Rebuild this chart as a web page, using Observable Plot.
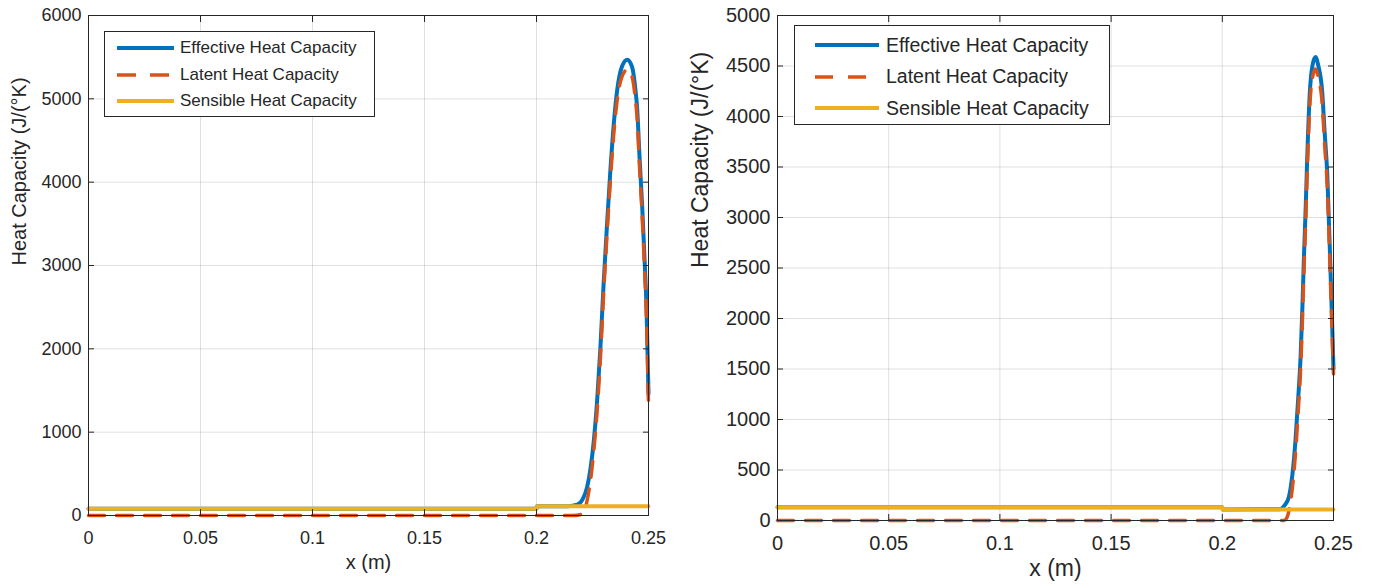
<!DOCTYPE html>
<html>
<head>
<meta charset="utf-8">
<script src="https://cdn.jsdelivr.net/npm/d3@7"></script>
<script src="https://cdn.jsdelivr.net/npm/@observablehq/plot@0.6"></script>
<style>
  html, body { margin: 0; padding: 0; background: #fff; }
  #wrap { position: relative; width: 1373px; height: 588px; background: #fff; overflow: hidden;
          font-family: "Liberation Sans", Arial, sans-serif; color: #262626; }
  .panel { position: absolute; top: 0; }
  .legend { position: absolute; background: #fff; border: 1px solid #262626; box-sizing: border-box; }
  .legend .row { position: absolute; left: 0; display: flex; align-items: center; white-space: nowrap; }
  .legend svg { display: block; }
</style>
</head>
<body>
<div id="wrap"></div>
<script>
// ---------- data ----------
const seriesNames = ["Effective Heat Capacity", "Latent Heat Capacity", "Sensible Heat Capacity"];
const seriesColors = ["#0072BD", "#D95319", "#EDB120"];
const xTicks = [0, 0.05, 0.1, 0.15, 0.2, 0.25];
const yTicksLeft = [0, 1000, 2000, 3000, 4000, 5000, 6000];
const yTicksRight = [0, 500, 1000, 1500, 2000, 2500, 3000, 3500, 4000, 4500, 5000];
const xLabel = "x (m)";
const yLabel = "Heat Capacity (J/(°K)";

// Left panel
const leftEffX = [0, 0.2, 0.2002, 0.214, 0.2182, 0.2205, 0.2226, 0.2241, 0.2256, 0.2270, 0.2285, 0.2300, 0.2315, 0.2330, 0.2345, 0.2360, 0.2382, 0.2405, 0.2427, 0.2442, 0.2449, 0.2460, 0.2472, 0.2482, 0.2491, 0.2500];
const leftEffY = [80, 80, 112, 112, 130, 190, 340, 560, 900, 1350, 2000, 2800, 3500, 4150, 4700, 5100, 5390, 5470, 5380, 5100, 4900, 4300, 3700, 3100, 2500, 1460];
const leftLatX = [0, 0.2, 0.216, 0.2195, 0.2215, 0.2226, 0.2241, 0.2256, 0.2270, 0.2285, 0.2300, 0.2315, 0.2330, 0.2345, 0.2360, 0.2382, 0.2405, 0.2427, 0.2442, 0.2449, 0.2460, 0.2472, 0.2482, 0.2491, 0.2500];
const leftLatY = [0, 0, 0, 10, 70, 180, 420, 780, 1230, 1880, 2680, 3380, 4030, 4580, 4980, 5270, 5350, 5260, 4980, 4780, 4180, 3580, 2980, 2380, 1340];
const leftSenX = [0, 0.2, 0.2002, 0.25];
const leftSenY = [80, 80, 112, 112];

// Right panel
const rightEffX = [0, 0.2, 0.2002, 0.226, 0.2280, 0.2299, 0.2315, 0.2329, 0.2341, 0.2352, 0.2360, 0.2367, 0.2375, 0.2382, 0.2394, 0.2405, 0.2419, 0.2432, 0.2449, 0.2460, 0.2472, 0.2487, 0.2500];
const rightEffY = [130, 130, 110, 112, 150, 230, 450, 790, 1200, 1620, 2100, 2600, 3100, 3600, 4257, 4500, 4590, 4500, 4250, 3850, 3430, 2440, 1500];
const rightLatX = [0, 0.2, 0.2275, 0.2285, 0.2299, 0.2315, 0.2329, 0.2341, 0.2352, 0.2360, 0.2367, 0.2375, 0.2382, 0.2394, 0.2405, 0.2419, 0.2432, 0.2449, 0.2460, 0.2472, 0.2487, 0.2500];
const rightLatY = [0, 0, 0, 10, 90, 320, 660, 1070, 1490, 1970, 2470, 2970, 3470, 4130, 4380, 4470, 4380, 4130, 3730, 3310, 2320, 1450];
const rightSenX = [0, 0.2, 0.2002, 0.25];
const rightSenY = [130, 130, 110, 110];

function pts(xs, ys) { return xs.map((x, i) => ({x, y: ys[i]})); }

function panel(cfg) {
  const eff = pts(cfg.effX, cfg.effY), lat = pts(cfg.latX, cfg.latY), sen = pts(cfg.senX, cfg.senY);
  return Plot.plot({
    width: cfg.width, height: 588,
    marginLeft: cfg.ml, marginRight: cfg.mr, marginTop: cfg.mt, marginBottom: cfg.mb,
    style: {fontFamily: '"Liberation Sans", Arial, sans-serif', fontSize: cfg.fs + "px", color: "#262626", background: "transparent", overflow: "visible"},
    x: {domain: [0, 0.25]},
    y: {domain: cfg.yDomain},
    marks: [
      Plot.gridX({ticks: xTicks, stroke: "#000", strokeOpacity: 0.12}),
      Plot.gridY({ticks: cfg.yTicks, stroke: "#000", strokeOpacity: 0.12}),
      Plot.line(eff, {x: "x", y: "y", stroke: seriesColors[0], strokeWidth: 4, curve: "monotone-x"}),
      Plot.line(lat, {x: "x", y: "y", stroke: seriesColors[1], strokeWidth: 3.5, strokeDasharray: "16,12", curve: "monotone-x"}),
      Plot.line(sen, {x: "x", y: "y", stroke: seriesColors[2], strokeWidth: 4}),
      Plot.frame({stroke: "#262626", strokeWidth: 1}),
      Plot.axisX({anchor: "bottom", ticks: xTicks, tickFormat: d => String(d), tickSize: -6, tickPadding: cfg.xPad, label: null}),
      Plot.axisX({anchor: "top", ticks: xTicks, tickFormat: () => "", tickSize: -6, label: null}),
      Plot.axisY({anchor: "left", ticks: cfg.yTicks, tickFormat: d => String(d), tickSize: -6, tickPadding: 13, label: null}),
      Plot.axisY({anchor: "right", ticks: cfg.yTicks, tickFormat: () => "", tickSize: -6, label: null}),
      Plot.text([yLabel], {text: d => d, frameAnchor: "left", dx: cfg.yLabDx, rotate: -90, fontSize: cfg.labFs, fill: "#262626"}),
      Plot.text([xLabel], {text: d => d, frameAnchor: "bottom", dy: cfg.xLabDy, fontSize: cfg.labFs, fill: "#262626"})
    ]
  });
}

const wrap = document.getElementById("wrap");

const left = panel({
  width: 680, ml: 88, mr: 32, mt: 15, mb: 73, fs: 18, labFs: 20,
  yDomain: [0, 6000], yTicks: yTicksLeft, xPad: 22, yLabDx: -69, xLabDy: 53,
  effX: leftEffX, effY: leftEffY, latX: leftLatX, latY: leftLatY, senX: leftSenX, senY: leftSenY
});
left.classList.add("panel"); left.style.left = "0px";
wrap.appendChild(left);

const right = panel({
  width: 693, ml: 97, mr: 40, mt: 15, mb: 68, fs: 20, labFs: 23,
  yDomain: [0, 5000], yTicks: yTicksRight, xPad: 21, yLabDx: -77, xLabDy: 55,
  effX: rightEffX, effY: rightEffY, latX: rightLatX, latY: rightLatY, senX: rightSenX, senY: rightSenY
});
right.classList.add("panel"); right.style.left = "680px";
wrap.appendChild(right);

function legend(cfg) {
  const box = document.createElement("div");
  box.className = "legend";
  Object.assign(box.style, {left: cfg.x + "px", top: cfg.y + "px", width: cfg.w + "px", height: cfg.h + "px", fontSize: cfg.fs + "px"});
  seriesNames.forEach((name, i) => {
    const row = document.createElement("div");
    row.className = "row";
    row.style.top = (cfg.row0 + i * cfg.rowStep - 12) + "px";
    row.style.height = "24px";
    row.style.left = cfg.lineX + "px";
    const svg = d3.create("svg").attr("width", cfg.lineW).attr("height", 24);
    svg.append("line").attr("x1", 0).attr("x2", cfg.lineW).attr("y1", 12).attr("y2", 12)
      .attr("stroke", seriesColors[i]).attr("stroke-width", i === 1 ? 3.5 : 4)
      .attr("stroke-dasharray", i === 1 ? cfg.dash : null);
    row.appendChild(svg.node());
    const t = document.createElement("span");
    t.textContent = name;
    t.style.marginLeft = cfg.gap + "px";
    row.appendChild(t);
    box.appendChild(row);
  });
  wrap.appendChild(box);
}

legend({x: 104, y: 31, w: 271, h: 86, fs: 17, row0: 16, rowStep: 26.7, lineX: 12, lineW: 57, gap: 6, dash: "19,14"});
legend({x: 794, y: 25, w: 316, h: 100, fs: 19.5, row0: 19, rowStep: 31.5, lineX: 20, lineW: 64, gap: 7, dash: "18,15"});
</script>
</body>
</html>
